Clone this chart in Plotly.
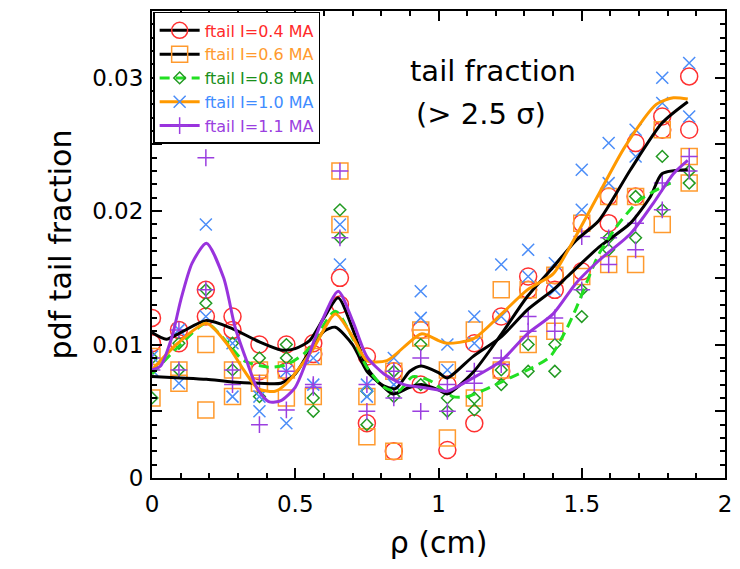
import plotly.graph_objects as go

# rho positions (cm) of the measured points
rho = [0.000, 0.094, 0.188, 0.281, 0.375, 0.469, 0.563, 0.656, 0.750, 0.844, 0.938,
       1.031, 1.125, 1.219, 1.313, 1.406, 1.500, 1.594, 1.688, 1.781, 1.875]

# tail fractions in units of 1e-3 (two measurements per radius)
i04_a = [12.0, 11.1, 14.1, 12.1, 10.0, 10.0, 10.1, 15.0, 9.1, 8.0, 11.1, 7.0, 10.1, 12.1, 15.1, 15.2, 19.1, 21.1, 25.1, 27.1, 30.1]
i04_b = [10.1, 10.1, 12.1, 11.1, 8.0, 8.0, 9.3, 13.0, 4.1, 2.0, 7.0, 2.1, 4.1, 8.0, 14.1, 14.1, 15.5, 19.1, 21.1, 26.1, 26.1]
i06_a = [9.1, 8.1, 10.0, 8.1, 8.1, 8.1, 9.1, 23.0, 6.1, 8.0, 11.1, 8.1, 11.1, 14.1, 14.1, 15.2, 19.1, 21.1, 21.1, 26.1, 24.1]
i06_b = [6.0, 7.1, 5.1, 6.1, 7.1, 6.0, 6.1, 19.0, 3.1, 2.0, 10.5, 3.0, 6.0, 8.1, 10.0, 11.0, 15.1, 16.0, 16.0, 19.0, 22.1]
i08_a = [9.0, 10.1, 14.1, 10.1, 9.0, 10.0, 6.0, 20.1, 6.5, 6.1, 10.0, 6.0, 6.0, 8.1, 10.0, 10.0, 14.1, 18.0, 21.1, 24.1, 23.0]
i08_b = [6.0, 8.1, 13.1, 8.1, 6.1, 9.0, 5.0, 18.0, 4.0, 8.0, 7.0, 5.0, 5.1, 7.0, 8.0, 8.0, 12.1, 17.1, 18.0, 20.1, 22.1]
i10_a = [9.1, 11.1, 19.0, 10.1, 6.1, 8.0, 9.0, 19.0, 7.0, 9.0, 14.0, 10.0, 12.1, 16.0, 17.1, 16.1, 23.1, 25.1, 26.1, 30.0, 31.1]
i10_b = [8.1, 7.1, 12.1, 6.1, 5.0, 4.1, 7.0, 16.0, 6.1, 7.0, 12.0, 8.1, 10.1, 12.1, 15.1, 14.1, 20.1, 22.1, 24.1, 28.1, 27.1]
i11_a = [9.0, 11.1, 24.0, 8.1, 7.1, 8.0, 7.0, 23.0, 7.0, 8.0, 9.0, 7.0, 8.0, 9.0, 12.1, 12.0, 18.1, 18.0, 19.1, 22.1, 24.1]
i11_b = [8.1, 8.1, 14.1, 7.0, 4.0, 5.1, 6.8, 18.0, 5.0, 6.0, 5.0, 5.0, 7.1, 8.5, 11.0, 11.0, 14.1, 16.0, 17.1, 20.1, 23.0]

# smooth fit curves (units of 1e-3)
fitA_x = [0, 0.05, 0.1, 0.19, 0.28, 0.375, 0.45, 0.5, 0.55, 0.6, 0.65, 0.7, 0.75, 0.8, 0.85, 0.9, 0.94,
          1.0, 1.03, 1.12, 1.22, 1.31, 1.4, 1.45, 1.56, 1.67, 1.74, 1.78, 1.87]
fitA_y = [10.9, 10.4, 10.9, 11.8, 11.2, 10.2, 9.6, 9.7, 10.3, 12.0, 13.5, 11.2, 8.3, 7.0, 6.7, 8.0, 8.4,
          7.9, 7.5, 9.1, 10.6, 12.6, 14.1, 15.1, 17.3, 19.1, 21.1, 22.8, 23.1]
fitB_x = [0, 0.1, 0.19, 0.28, 0.375, 0.45, 0.5, 0.55, 0.6, 0.64, 0.7, 0.75, 0.8, 0.84, 0.9, 0.94, 1.0,
          1.03, 1.12, 1.22, 1.31, 1.4, 1.48, 1.56, 1.67, 1.78, 1.87]
fitB_y = [7.6, 7.5, 7.4, 7.2, 7.1, 7.1, 7.8, 9.5, 11.0, 11.3, 10.0, 8.0, 7.0, 6.3, 6.8, 7.0, 6.6,
          6.3, 7.9, 10.8, 13.6, 15.8, 17.8, 19.3, 23.1, 26.6, 28.2]
fitG_x = [0, 0.09, 0.19, 0.26, 0.32, 0.41, 0.47, 0.54, 0.64, 0.7, 0.75, 0.81, 0.86, 0.91, 0.97, 1.05,
          1.1, 1.16, 1.25, 1.33, 1.39, 1.45, 1.48, 1.52, 1.56, 1.62, 1.7, 1.78, 1.81]
fitG_y = [7.8, 9.8, 11.6, 10.2, 8.8, 8.3, 8.5, 9.5, 12.5, 10.5, 8.3, 6.8, 6.5, 7.6, 7.3, 6.1,
          6.1, 6.6, 7.5, 8.3, 9.1, 11.3, 12.7, 14.8, 16.8, 18.8, 20.8, 21.8, 22.1]
fitO_x = [0, 0.09, 0.19, 0.26, 0.32, 0.37, 0.43, 0.47, 0.56, 0.64, 0.7, 0.75, 0.82, 0.94, 1.0, 1.03,
          1.12, 1.22, 1.31, 1.4, 1.45, 1.56, 1.65, 1.76, 1.82, 1.87]
fitO_y = [8.1, 10.1, 11.6, 10.1, 8.1, 6.7, 6.5, 7.1, 9.6, 12.3, 10.6, 8.8, 8.8, 10.8, 10.3, 10.1,
          10.4, 12.3, 14.1, 15.3, 17.0, 21.3, 24.8, 28.0, 28.5, 28.4]
fitP_x = [0, 0.03, 0.07, 0.1, 0.14, 0.19, 0.25, 0.29, 0.33, 0.37, 0.41, 0.45, 0.5, 0.54, 0.59, 0.65,
          0.7, 0.75, 0.81, 0.88, 0.94, 1.0, 1.03, 1.12, 1.22, 1.31, 1.4, 1.48, 1.56, 1.67, 1.75, 1.82, 1.87]
fitP_y = [8.1, 8.4, 10.6, 13.3, 16.1, 17.6, 15.0, 11.3, 8.8, 6.6, 5.7, 5.8, 6.8, 8.8, 11.6, 14.0,
          11.8, 9.1, 7.8, 7.0, 6.8, 6.6, 6.5, 7.5, 8.8, 10.8, 12.3, 14.6, 16.3, 18.3, 20.6, 22.8, 23.8]

labels = ["ftail I=0.4 MA", "ftail I=0.6 MA", "ftail I=0.8 MA", "ftail I=1.0 MA", "ftail I=1.1 MA"]
text_colors = ["#ff2a2a", "#ff9a2e", "#1a8f1a", "#3f8cff", "#9b3fe0"]
marker_colors = ["#ff3030", "#ff9a2e", "#229a22", "#4b8df8", "#9b3fe0"]
symbols = ["circle-open", "square-open", "diamond-open", "x-thin-open", "cross-thin-open"]
sizes = [17, 16, 9, 12, 12]
line_colors = ["black", "black", "#22e022", "#ff9900", "#9933dd"]
line_dash = ["solid", "solid", "10px,6px", "solid", "solid"]

scale = 1e-3
series_a = [i04_a, i06_a, i08_a, i10_a, i11_a]
series_b = [i04_b, i06_b, i08_b, i10_b, i11_b]
fits = [(fitA_x, fitA_y), (fitB_x, fitB_y), (fitG_x, fitG_y), (fitO_x, fitO_y), (fitP_x, fitP_y)]

fig = go.Figure()

for k in range(5):
    ys = [v * scale for v in series_a[k] + series_b[k]]
    fig.add_trace(go.Scatter(
        x=rho + rho, y=ys, mode="markers", showlegend=False,
        marker=dict(symbol=symbols[k], size=sizes[k], color=marker_colors[k],
                    line=dict(width=1.5, color=marker_colors[k]))))

for k in range(5):
    fx, fy = fits[k]
    fig.add_trace(go.Scatter(
        x=fx, y=[v * scale for v in fy], mode="lines", showlegend=False,
        line=dict(color=line_colors[k], width=3, dash=line_dash[k], shape="spline", smoothing=0.7)))

for k in range(5):
    fig.add_trace(go.Scatter(
        x=[None], y=[None], mode="lines+markers",
        name='<span style="color:%s">%s</span>' % (text_colors[k], labels[k]),
        line=dict(color=line_colors[k], width=3, dash=line_dash[k]),
        marker=dict(symbol=symbols[k], size=sizes[k], color=marker_colors[k],
                    line=dict(width=1.5, color=marker_colors[k]))))

axis_font = dict(family="DejaVu Sans", size=23, color="black")
title_font = dict(family="DejaVu Sans", size=30, color="black")

fig.update_layout(
    width=740, height=569,
    margin=dict(l=152, r=8, t=11, b=91),
    paper_bgcolor="white", plot_bgcolor="white",
    font=dict(family="DejaVu Sans", color="black"),
    showlegend=True,
    legend=dict(x=0.002, y=0.998, xanchor="left", yanchor="top",
                bgcolor="white", bordercolor="black", borderwidth=1.5,
                font=dict(family="DejaVu Sans", size=16), itemwidth=40,
                tracegroupgap=0),
    xaxis=dict(range=[0, 2], tickvals=[0, 0.5, 1, 1.5, 2], ticktext=["0", "0.5", "1", "1.5", "2"],
               ticks="inside", ticklen=10, tickwidth=1.5, tickcolor="black",
               minor=dict(tick0=0, dtick=0.1, ticks="inside", ticklen=5, tickwidth=1.5, tickcolor="black"),
               showline=True, linewidth=2, linecolor="black", mirror="ticks",
               showgrid=False, zeroline=False, tickfont=axis_font, ticklabelstandoff=4,
               title=dict(text="ρ (cm)", font=title_font, standoff=16)),
    yaxis=dict(range=[0, 0.035],
               tickvals=[0, 0.005, 0.01, 0.015, 0.02, 0.025, 0.03, 0.035],
               ticktext=["0", "", "0.01", "", "0.02", "", "0.03", ""],
               ticks="inside", ticklen=10, tickwidth=1.5, tickcolor="black",
               minor=dict(tick0=0, dtick=0.001, ticks="inside", ticklen=5, tickwidth=1.5, tickcolor="black"),
               showline=True, linewidth=2, linecolor="black", mirror="ticks",
               showgrid=False, zeroline=False, tickfont=axis_font, ticklabelstandoff=2,
               title=dict(text="pdf tail fraction", font=title_font, standoff=12)),
    annotations=[
        dict(xref="paper", yref="paper", x=0.595, y=0.912, text="tail fraction", showarrow=False,
             font=dict(family="DejaVu Sans", size=29, color="black")),
        dict(xref="paper", yref="paper", x=0.574, y=0.820, text="(&gt; 2.5 σ)", showarrow=False,
             font=dict(family="DejaVu Sans", size=29, color="black")),
    ],
)

fig.write_html("out.html")
